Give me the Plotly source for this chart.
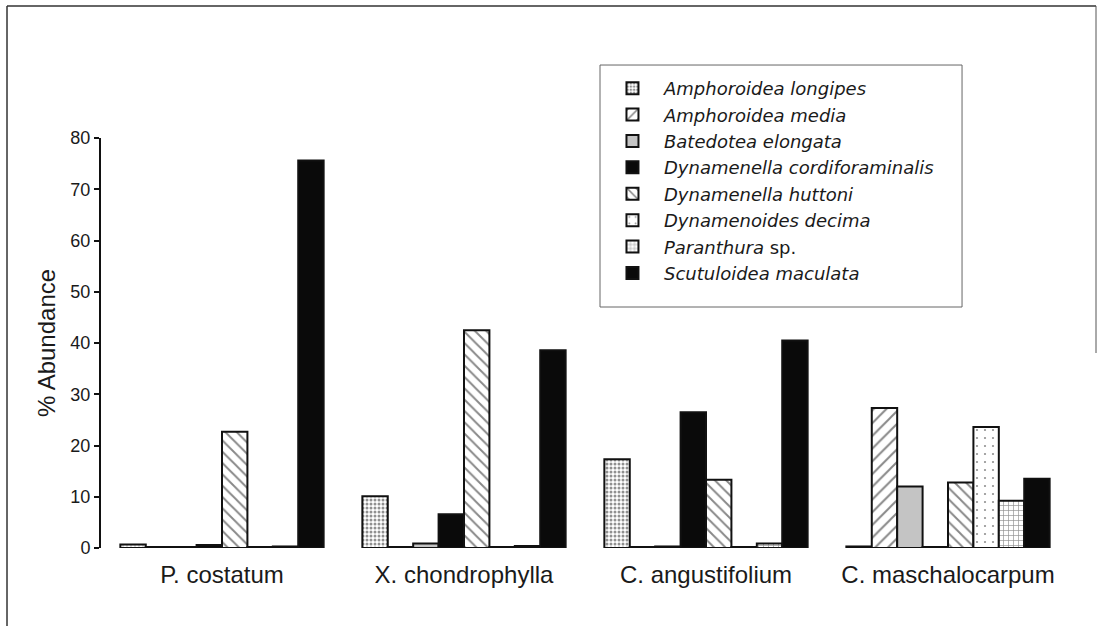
import plotly.graph_objects as go

sites = ["P. costatum", "X. chondrophylla", "C. angustifolium", "C. maschalocarpum"]

species = [
    "<i>Amphoroidea longipes</i>",
    "<i>Amphoroidea media</i>",
    "<i>Batedotea elongata</i>",
    "<i>Dynamenella cordiforaminalis</i>",
    "<i>Dynamenella huttoni</i>",
    "<i>Dynamenoides decima</i>",
    "<i>Paranthura</i> sp.",
    "<i>Scutuloidea maculata</i>",
]

amphoroidea_longipes = [0.7, 10.1, 17.3, 0.3]
amphoroidea_media = [0.2, 0.2, 0.2, 27.3]
batedotea_elongata = [0.2, 0.9, 0.3, 12.0]
dynamenella_cordiforaminalis = [0.6, 6.6, 26.5, 0.2]
dynamenella_huttoni = [22.7, 42.5, 13.3, 12.8]
dynamenoides_decima = [0.2, 0.2, 0.2, 23.6]
paranthura_sp = [0.3, 0.4, 0.9, 9.2]
scutuloidea_maculata = [75.6, 38.6, 40.5, 13.5]

values = [
    amphoroidea_longipes, amphoroidea_media, batedotea_elongata,
    dynamenella_cordiforaminalis, dynamenella_huttoni, dynamenoides_decima,
    paranthura_sp, scutuloidea_maculata,
]

styles = [
    dict(color="white", pattern=dict(shape=".", size=4, solidity=0.45, fgcolor="#222", bgcolor="white", fillmode="overlay")),
    dict(color="white", pattern=dict(shape="/", size=9, solidity=0.22, fgcolor="#111", bgcolor="white", fillmode="overlay")),
    dict(color="#c4c4c4"),
    dict(color="#0a0a0a"),
    dict(color="white", pattern=dict(shape="\\", size=8, solidity=0.24, fgcolor="#111", bgcolor="white", fillmode="overlay")),
    dict(color="white", pattern=dict(shape=".", size=8, solidity=0.06, fgcolor="#222", bgcolor="white", fillmode="overlay")),
    dict(color="white", pattern=dict(shape="+", size=5, solidity=0.25, fgcolor="#222", bgcolor="white", fillmode="overlay")),
    dict(color="#0a0a0a"),
]

fig = go.Figure()
for name, vals, st in zip(species, values, styles):
    marker = dict(line=dict(color="#111", width=2))
    marker.update(st)
    fig.add_trace(go.Bar(x=sites, y=vals, name=name, marker=marker))

fig.update_layout(
    width=1098, height=626,
    paper_bgcolor="white", plot_bgcolor="white",
    barmode="group", bargap=0.16, bargroupgap=0,
    margin=dict(l=101, r=29, t=138, b=78, autoexpand=False),
    font=dict(family="Liberation Sans, Arial, sans-serif", color="#1a1a1a"),
    showlegend=True,
    legend=dict(
        x=0.5165, y=1.166, xanchor="left", yanchor="top",
        bgcolor="rgba(0,0,0,0)", borderwidth=0,
        font=dict(size=18, color="#1a1a1a", family="DejaVu Sans, sans-serif"),
        traceorder="normal", itemwidth=53,
    ),
    xaxis=dict(
        showline=False, showgrid=False, zeroline=False, ticks="",
        tickfont=dict(size=24), ticklabelstandoff=10,
        range=[-0.5, 3.5],
    ),
    yaxis=dict(
        range=[0, 80], tickvals=[0, 10, 20, 30, 40, 50, 60, 70, 80],
        showline=True, linecolor="#111", linewidth=2,
        ticks="outside", ticklen=5, tickcolor="#111", tickwidth=1.5,
        showgrid=False, zeroline=False,
        tickfont=dict(size=18),
        title=dict(text="% Abundance", font=dict(size=24), standoff=8),
    ),
    shapes=[
        dict(type="line", xref="paper", yref="paper", x0=-0.0971, x1=-0.0971, y0=-0.19, y1=1.322,
             line=dict(color="#333", width=1.5)),
        dict(type="line", xref="paper", yref="paper", x0=-0.0971, x1=1.0279, y0=1.322, y1=1.322,
             line=dict(color="#333", width=1.5)),
        dict(type="line", xref="paper", yref="paper", x0=1.0279, x1=1.0279, y0=1.322, y1=0.4756,
             line=dict(color="#555", width=1)),
        dict(type="rect", xref="paper", yref="paper", x0=0.5155, x1=0.8895, y0=0.5878, y1=1.178,
             line=dict(color="#666", width=1), fillcolor="white", layer="below"),
    ],
)

fig.write_html("out.html", config={"displayModeBar": False},
               post_script="document.body.style.margin='0';")
